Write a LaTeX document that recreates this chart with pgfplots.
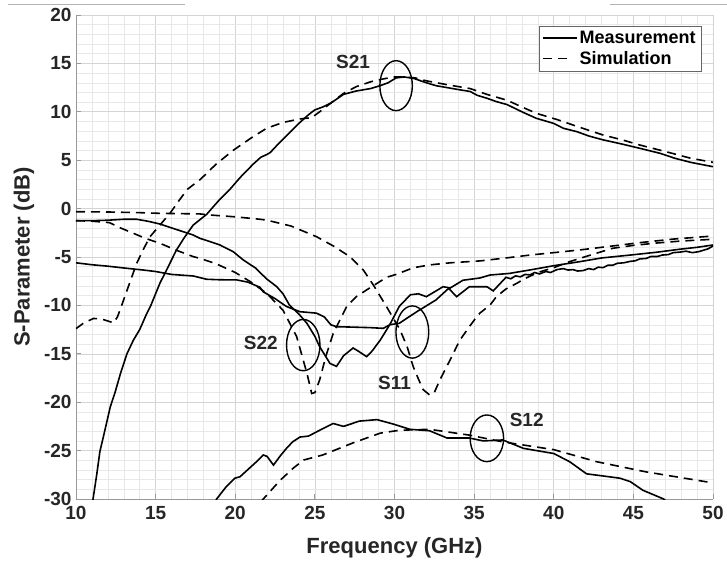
\documentclass[border=0pt]{standalone}
\usepackage{fontspec}
\setmainfont{Liberation Sans}
\usepackage{pgfplots}
\pgfplotsset{compat=1.18}

\definecolor{axgray}{HTML}{999999}
\definecolor{txtgray}{HTML}{262626}

\pgfplotsset{
  longlegend/.style={legend image code/.code={\draw[##1, line width=1.8pt] (1pt,0pt) -- (35pt,0pt);}},
  shortlegend/.style={legend image code/.code={\draw[##1, line width=1.8pt] (1pt,0pt) -- (25pt,0pt);}},
}

\begin{document}
\begin{tikzpicture}
\begin{axis}[
    scale only axis,
    width=637pt, height=484pt,
    xmin=10, xmax=50, ymin=-30, ymax=20,
    xtick={10,15,...,50}, ytick={-30,-25,...,20},
    minor x tick num=4, minor y tick num=4,
    grid=both,
    major grid style={black!17, line width=0.6pt},
    minor grid style={black!9, line width=0.5pt},
    axis lines*=left,
    axis line style={axgray, line width=0.8pt},
    tick align=inside,
    major tick length=5pt, minor tick length=0pt,
    tick style={axgray, line width=0.8pt},
    /pgf/number format/assume math mode=true,
    tick label style={font=\fontsize{19}{22}\selectfont\bfseries, text=txtgray},
    xticklabel style={yshift=-4pt},
    yticklabel style={xshift=-1pt},
    xlabel={Frequency (GHz)},
    ylabel={S-Parameter (dB)},
    label style={font=\fontsize{22}{26}\selectfont\bfseries, text=txtgray},
    x label style={at={(axis description cs:0.5,-0.101)}, anchor=center},
    y label style={at={(axis description cs:-0.0816,0.5)}, anchor=center},
    legend style={at={(0.981,0.977)}, anchor=north east,
        font=\fontsize{18}{21}\selectfont\bfseries, draw=black!60,
        fill=white, row sep=2pt, inner sep=3pt,
        cells={anchor=west}},
    every axis plot/.append style={line width=1.6pt, black},
    clip=true,
]
% S21 measurement
\addplot[solid, longlegend] coordinates {
(10.95,-31.5) (11.07,-30) (11.3,-27.5) (11.5,-25.1) (11.8,-23) (12.15,-20.5)
(12.45,-19) (12.8,-17) (13.2,-15) (13.6,-13.6) (14.0,-12.5) (14.4,-11)
(14.7,-10) (15.27,-7.7) (15.7,-6.3) (16.3,-4.3) (16.8,-3.0) (17.36,-1.7)
(18.2,-0.6) (19.0,0.9) (19.67,2.0) (20.3,3.2) (21.13,4.6) (21.6,5.3)
(22.0,5.6) (22.2,5.8) (22.6,6.5) (23.2,7.5) (24.06,8.9) (24.6,9.7)
(25.0,10.2) (25.5,10.5) (26.0,10.9) (26.8,11.8) (27.6,12.15) (28.5,12.4)
(29.1,12.7) (29.6,13.0) (30.1,13.5) (30.6,13.6) (31.2,13.45) (32.0,13.0)
(32.6,12.7) (33.3,12.5) (34.0,12.3) (34.75,12.1) (35.2,11.7) (35.8,11.4)
(36.4,11.05) (37.06,10.75) (38.0,10.0) (38.9,9.33) (40.0,8.8) (40.6,8.3)
(41.45,7.95) (42.2,7.5) (43.1,7.1) (44.2,6.7) (45.4,6.23) (46.7,5.7)
(47.6,5.2) (48.6,4.78) (49.3,4.55) (50,4.33)
};
\addlegendentry{Measurement}
% S21 simulation
\addplot[dash pattern=on 9pt off 6pt, shortlegend] coordinates {
(10,-12.4) (10.5,-11.8) (11.1,-11.35) (11.6,-11.4) (12.35,-11.8) (12.6,-11.2)
(12.76,-10.5) (13.3,-8.0) (13.8,-5.7) (14.2,-4.3) (14.65,-2.9) (15.27,-1.7)
(15.9,-0.49) (16.5,0.9) (17.0,2.0) (17.8,3.0) (18.8,4.6) (19.9,6.05)
(21.0,7.3) (21.97,8.3) (23.0,8.9) (24.06,9.26) (24.8,9.4) (25.3,10.0)
(26.0,10.9) (26.8,11.9) (27.6,12.6) (28.5,13.1) (29.3,13.4) (30.0,13.6)
(30.7,13.6) (31.3,13.5) (32.0,13.2) (33.3,12.8) (34.75,12.4) (35.8,11.8)
(37.06,11.2) (38.0,10.5) (38.9,9.85) (40.2,9.2) (41.45,8.5) (43.1,7.6)
(44.3,7.1) (45.4,6.57) (47.0,5.9) (48.6,5.2) (50,4.78)
};
\addlegendentry{Simulation}
% S11 simulation
\addplot[dash pattern=on 9pt off 6pt, forget plot] coordinates {
(10,-0.32) (12,-0.35) (14,-0.42) (15.27,-0.49) (17.78,-0.55) (18.4,-0.66)
(20,-0.85) (21.55,-1.1) (22,-1.2) (23.5,-1.8) (25.1,-2.9) (26.2,-3.9)
(27.2,-4.97) (28.04,-6.34) (28.67,-7.89) (29.5,-10.13) (30.34,-12.5) (30.8,-14.3)
(31.17,-16.3) (31.5,-17.6) (31.8,-18.7) (32.2,-19.25) (32.5,-19.0) (32.85,-17.7)
(33.5,-15.6) (34.1,-13.6) (34.7,-12.2) (35.15,-11.2) (35.36,-10.8) (36.0,-9.96)
(36.4,-9.1) (37.0,-8.3) (37.7,-7.7) (38.1,-7.3) (39.0,-6.6) (40.0,-6.1)
(41.0,-5.48) (42.3,-4.8) (43.7,-4.1) (45,-3.8) (46.5,-3.55) (48,-3.35) (50,-3.17)
};
% S22 simulation
\addplot[dash pattern=on 9pt off 6pt, forget plot] coordinates {
(10,-1.25) (11,-1.3) (12.1,-1.45) (12.8,-2.0) (13.6,-2.55) (14.4,-3.1)
(15.27,-3.58) (16.3,-4.3) (17.36,-4.96) (17.78,-5.14) (18.8,-5.7) (20.0,-6.6)
(21.0,-7.6) (21.97,-8.75) (23.0,-10.5) (23.85,-13.2) (24.5,-17.0) (24.8,-19.1)
(25.0,-19.0) (25.3,-17.7) (25.7,-15.2) (26.15,-12.9) (27.0,-10.1) (27.6,-9.1)
(28.25,-8.4) (29.5,-7.1) (30.1,-6.8) (31.2,-6.1) (32.3,-5.8) (33.5,-5.6)
(35.4,-5.4) (37,-5.1) (38.5,-4.8) (40,-4.55) (41.64,-4.27) (43.5,-3.9)
(45.5,-3.5) (47.5,-3.15) (50,-2.83)
};
% S22/S11 measurement, curve starting at -1.2 dB
\addplot[solid, forget plot] coordinates {
(10,-1.25) (11,-1.25) (12,-1.2) (13,-1.1) (13.8,-1.1) (14.5,-1.3)
(15.27,-1.59) (16.2,-2.1) (17.36,-2.73) (17.78,-3.07) (18.4,-3.4) (19.04,-3.76)
(19.87,-4.45) (20.5,-5.3) (21.3,-6.17) (21.55,-6.6) (22.0,-7.3) (22.6,-8.06)
(23.0,-8.8) (23.4,-9.96) (24.0,-10.9) (24.5,-11.85) (25.0,-13.2) (25.3,-14.26)
(25.95,-16.0) (26.36,-16.3) (26.8,-15.2) (27.4,-14.4) (27.8,-14.8) (28.25,-15.3)
(28.6,-14.7) (29.1,-13.6) (29.7,-12.0) (30.3,-10.1) (31.0,-8.9) (31.5,-8.8)
(32.0,-9.1) (33.05,-8.07) (33.5,-8.2) (34.3,-7.4) (35.36,-7.17) (36.0,-6.86)
(37.2,-6.7) (38.5,-6.34) (40.0,-5.9) (41.64,-5.48) (43.0,-5.1) (44.8,-4.8)
(46.5,-4.5) (47.9,-4.2) (49.0,-4.0) (50,-3.76)
};
% S11/S22 measurement, curve starting at -5.6 dB
\addplot[solid, forget plot] coordinates {
(10,-5.6) (11,-5.8) (12,-5.95) (13.2,-6.17) (14.2,-6.34) (15.0,-6.5)
(16.0,-6.8) (17.36,-6.96) (18.2,-7.3) (19.0,-7.35) (20.1,-7.37) (20.8,-7.6)
(21.55,-8.13) (21.76,-8.6) (22.5,-9.3) (23.2,-10.1) (24.06,-10.65) (25.1,-10.8)
(25.6,-11.2) (26.0,-12.0) (26.36,-12.2) (27.5,-12.25) (28.5,-12.3) (29.3,-12.37)
(29.7,-12.0) (30.3,-11.85) (31.4,-10.65) (32.6,-9.44) (33.4,-8.24) (33.9,-9.1)
(34.7,-8.07) (35.8,-8.07) (36.2,-8.5) (36.6,-7.8) (37.0,-7.1) (37.3,-7.25)
(37.6,-6.95) (37.9,-7.05) (38.2,-6.8) (38.5,-6.85) (38.8,-6.6) (39.1,-6.75)
(39.5,-6.5) (39.8,-6.6) (40.2,-6.3) (40.6,-6.2) (40.9,-6.35) (41.2,-6.3)
(41.5,-6.45) (41.85,-6.4) (42.2,-6.2) (42.5,-6.3) (42.8,-6.05) (43.1,-6.1)
(43.4,-5.85) (43.7,-5.85) (44.0,-5.65) (44.4,-5.6) (44.8,-5.45) (45.1,-5.4)
(45.4,-5.2) (45.8,-5.15) (46.1,-4.95) (46.5,-4.95) (46.8,-4.8) (47.2,-4.75)
(47.5,-4.55) (47.9,-4.5) (48.3,-4.4) (48.7,-4.55) (49.1,-4.45) (49.4,-4.3)
(49.7,-4.15) (50,-3.86)
};
% S12 measurement
\addplot[solid, forget plot] coordinates {
(18.7,-30.5) (18.83,-30) (19.4,-28.8) (19.98,-27.85) (20.3,-27.7) (20.9,-26.8)
(21.3,-26.2) (21.76,-25.45) (22.0,-25.6) (22.4,-26.5) (22.8,-25.6) (23.2,-24.8)
(23.6,-24.1) (24.06,-23.6) (24.6,-23.5) (25.3,-22.9) (26.15,-22.2) (26.8,-22.5)
(27.8,-21.95) (28.9,-21.8) (29.9,-22.25) (30.97,-22.8) (32.2,-22.95) (33.3,-23.7)
(34.7,-23.7) (35.57,-24.0) (36.8,-23.9) (38.1,-24.77) (40.0,-25.3) (41.0,-26.15)
(42.06,-27.4) (43.0,-27.6) (44.15,-27.85) (44.8,-28.2) (45.6,-29.1) (46.9,-30)
(47.1,-30.3)
};
% S12 simulation
\addplot[dash pattern=on 9pt off 6pt, forget plot] coordinates {
(21.6,-30.3) (21.76,-30) (22.8,-28.1) (23.65,-26.8) (24.3,-25.97) (25.5,-25.45)
(27.4,-24.2) (29.1,-23.2) (30.3,-22.9) (32.2,-22.8) (34.7,-23.4) (36.8,-24.1)
(40,-24.9) (42.7,-26.15) (45.8,-27.2) (49.5,-28.2) (50,-28.35)
};
% annotations
\draw[line width=1.4pt] (axis cs:30.1,12.7) ellipse [x radius=1.02, y radius=2.58];
\draw[line width=1.4pt] (axis cs:24.27,-14.1) ellipse [x radius=1.05, y radius=2.65];
\draw[line width=1.4pt] (axis cs:31.12,-12.75) ellipse [x radius=1.03, y radius=2.7];
\draw[line width=1.4pt] (axis cs:35.8,-23.73) ellipse [x radius=1.05, y radius=2.41];
\node[font=\fontsize{19}{20}\selectfont\bfseries, text=txtgray] at (axis cs:27.4,15.18) {S21};
\node[font=\fontsize{19}{20}\selectfont\bfseries, text=txtgray] at (axis cs:21.6,-13.9) {S22};
\node[font=\fontsize{19}{20}\selectfont\bfseries, text=txtgray] at (axis cs:30.0,-18.05) {S11};
\node[font=\fontsize{19}{20}\selectfont\bfseries, text=txtgray] at (axis cs:38.3,-21.84) {S12};
\end{axis}
\draw[black!30, line width=0.8pt] (-68pt,494.7pt) -- (109pt,494.7pt);
\draw[black!30, line width=0.8pt] (534pt,494.7pt) -- (651pt,494.7pt);
\pgfresetboundingbox
\path[use as bounding box] (-76pt,-68pt) rectangle (651pt,499pt);
\end{tikzpicture}
\end{document}
